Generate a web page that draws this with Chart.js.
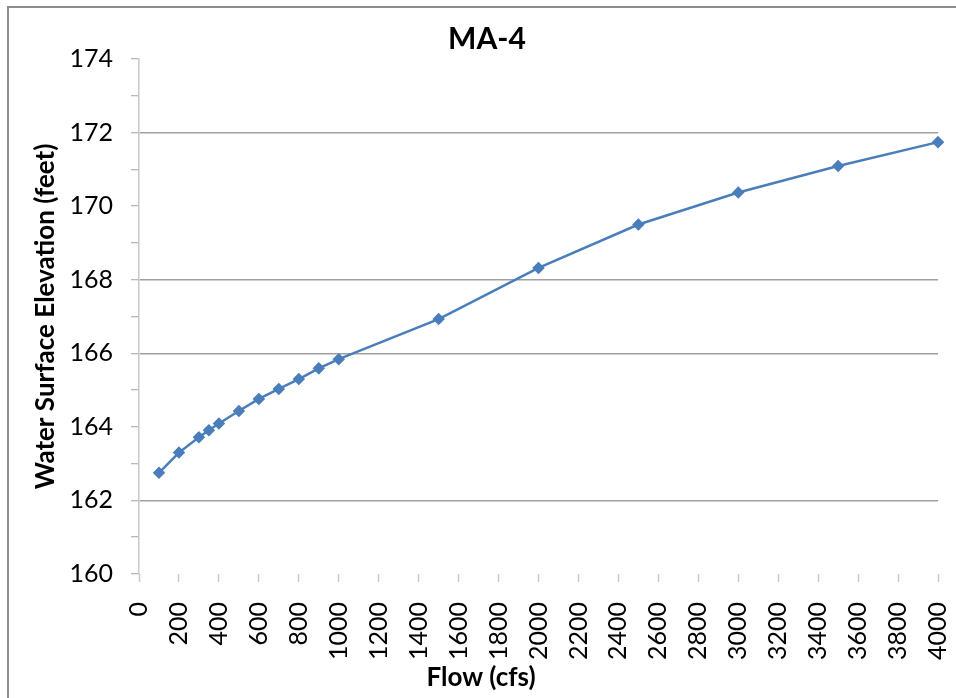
<!DOCTYPE html>
<html>
<head>
<meta charset="utf-8">
<script src="https://cdn.jsdelivr.net/npm/chart.js@4"></script>
<style>
  body { margin: 0; background: #fff; overflow: hidden; }
  #frame { position: absolute; left: 7px; top: 6px; width: 1000px; height: 800px; border: 2px solid #8c8c8c; }
  #chart { position: absolute; left: 0; top: 0; }
</style>
</head>
<body>
<div id="frame"></div>
<canvas id="chart" width="956" height="698"></canvas>
<script>
// --- Data ---
const flows = [100, 200, 300, 350, 400, 500, 600, 700, 800, 900, 1000, 1500, 2000, 2500, 3000, 3500, 4000];
const elevations = [162.75, 163.30, 163.72, 163.91, 164.09, 164.43, 164.76, 165.03, 165.30, 165.59, 165.84, 166.93, 168.32, 169.50, 170.37, 171.09, 171.74];
const xTicks = { min: 0, max: 4000, step: 200 };
const yTicks = { min: 160, max: 174, step: 2 };
const visibleGrid = [172, 168, 166, 162]; // gridlines that show in the picture

const points = flows.map((f, i) => ({ x: f, y: elevations[i] }));

// --- x axis title (drawn off-centre like the original) ---
const xTitlePlugin = {
    id: "xTitle",
    afterDraw(chart) {
        const c = chart.ctx;
        c.save();
        c.font = "bold 26px Lato";
        c.fillStyle = "#000";
        c.textAlign = "center";
        c.textBaseline = "middle";
        c.fillText("Flow (cfs)", 481, 678);
        c.restore();
    }
};

const ctx = document.getElementById("chart").getContext("2d");
new Chart(ctx, {
    type: "line",
    data: {
        datasets: [{
            label: "MA-4",
            data: points,
            borderColor: "#4a7ebb",
            backgroundColor: "#4a7ebb",
            borderWidth: 2.5,
            pointStyle: "rectRot",
            pointRadius: 4.5,
            tension: 0,
            clip: false
        }]
    },
    options: {
        responsive: false,
        animation: false,
        devicePixelRatio: 1,
        layout: { padding: { left: 36, right: 18, top: 0, bottom: 0 } },
        plugins: {
            legend: { display: false },
            tooltip: { enabled: false },
            title: {
                display: true,
                text: "MA-4",
                color: "#000",
                font: { family: "Lato", size: 30, weight: "bold" },
                padding: { top: 21, bottom: 2 }
            }
        },
        scales: {
            x: {
                type: "linear",
                min: xTicks.min,
                max: xTicks.max,
                afterFit(scale) {
                    scale.height = 124;
                    scale.paddingLeft = 0;
                    scale.paddingRight = 0;
                },
                border: { display: false },
                grid: { drawOnChartArea: false, tickLength: 8, tickColor: "#c8c8c8", tickWidth: 1.5 },
                ticks: {
                    stepSize: xTicks.step,
                    minRotation: 90,
                    maxRotation: 90,
                    padding: 20,
                    color: "#000",
                    font: { family: "Lato", size: 25 },
                    callback: (v) => String(v)
                }
            },
            y: {
                min: yTicks.min,
                max: yTicks.max,
                afterFit(scale) { scale.width = 103; },
                border: { color: "#c8c8c8", width: 1.5 },
                grid: {
                    color: (c) => visibleGrid.includes(c.tick.value) ? "#a0a0a0" : "rgba(0,0,0,0)",
                    lineWidth: 1.5,
                    tickLength: 8,
                    tickColor: "#a0a0a0",
                    tickWidth: 1
                },
                ticks: {
                    stepSize: 1,
                    padding: 18,
                    color: "#000",
                    font: { family: "Lato", size: 25 },
                    callback: (v) => (v - yTicks.min) % yTicks.step === 0 ? String(v) : ""
                },
                title: {
                    display: true,
                    text: "Water Surface Elevation (feet)",
                    color: "#000",
                    font: { family: "Lato", size: 26, weight: "bold", lineHeight: 1 },
                    padding: { top: -3, bottom: 0 }
                }
            }
        }
    },
    plugins: [xTitlePlugin]
});
</script>
</body>
</html>
